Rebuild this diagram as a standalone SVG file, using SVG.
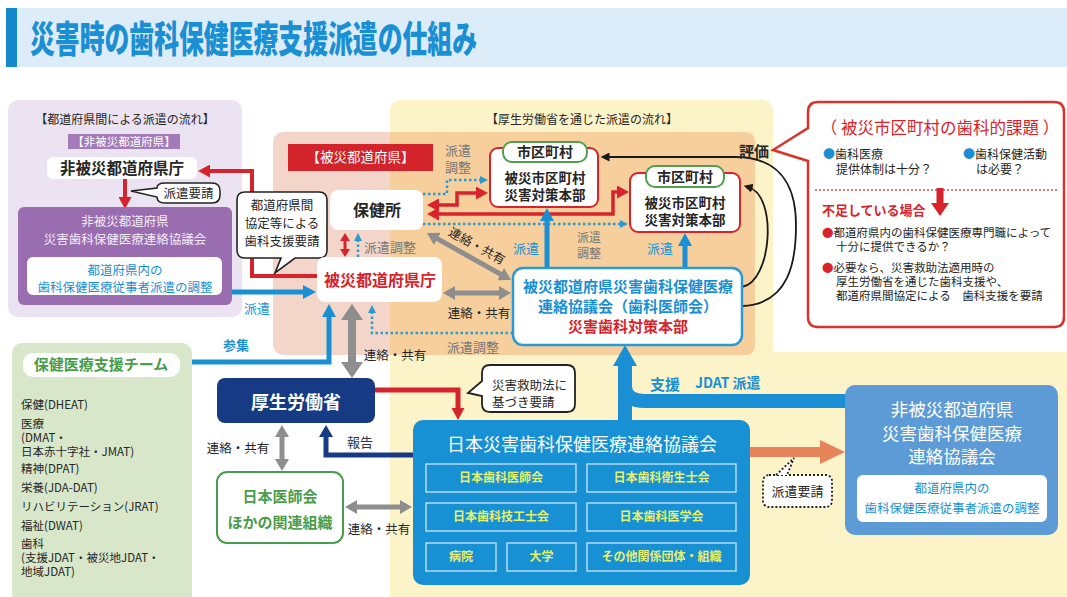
<svg xmlns="http://www.w3.org/2000/svg" width="1067" height="597" viewBox="0 0 1067 597">
<defs>
<style>
text{font-family:"Noto Sans CJK JP","Noto Sans CJK SC","Noto Sans",sans-serif;}
.c{text-anchor:middle}
.b{font-weight:700}
.g{fill:#767676}
.bl{fill:#1a8fd3}
.rd{fill:#d7232b}
.dk{fill:#262626}
.ln{fill:none}
.r{stroke:#d7232b}
.u{stroke:#1a8fd3}
.d{stroke:#2b9bcf;stroke-width:2.5;stroke-dasharray:2.5 2.5;fill:none}
.gy{stroke:#8e8e8e}
.sub{fill:none;stroke:#cde6f6;stroke-width:1.3}
.subt{fill:#e6ef6c;font-weight:700;font-size:12px;text-anchor:middle}
</style>
<marker id="ar" viewBox="0 0 12 13" markerWidth="12" markerHeight="13" refX="6" refY="6.5" orient="auto-start-reverse" markerUnits="userSpaceOnUse"><path d="M0,0L12,6.5L0,13z" fill="#d7232b"/></marker>
<marker id="ars" viewBox="0 0 8 10" markerWidth="8" markerHeight="10" refX="4" refY="5" orient="auto-start-reverse" markerUnits="userSpaceOnUse"><path d="M0,0L8,5L0,10z" fill="#d7232b"/></marker>
<marker id="ab" viewBox="0 0 13 14" markerWidth="13" markerHeight="14" refX="6.5" refY="7" orient="auto-start-reverse" markerUnits="userSpaceOnUse"><path d="M0,0L13,7L0,14z" fill="#1a8fd3"/></marker>
<marker id="ad" viewBox="0 0 8 8" markerWidth="8" markerHeight="8" refX="4" refY="4" orient="auto-start-reverse" markerUnits="userSpaceOnUse"><path d="M0,0L8,4L0,8z" fill="#2b9bcf"/></marker>
<marker id="ag" viewBox="0 0 12 14" markerWidth="12" markerHeight="14" refX="6" refY="7" orient="auto-start-reverse" markerUnits="userSpaceOnUse"><path d="M0,0L12,7L0,14z" fill="#8e8e8e"/></marker>
<marker id="agb" viewBox="0 0 16 22" markerWidth="16" markerHeight="22" refX="8" refY="11" orient="auto-start-reverse" markerUnits="userSpaceOnUse"><path d="M0,0L16,11L0,22z" fill="#8e8e8e"/></marker>
<marker id="an" viewBox="0 0 12 14" markerWidth="12" markerHeight="14" refX="6" refY="7" orient="auto-start-reverse" markerUnits="userSpaceOnUse"><path d="M0,0L12,7L0,14z" fill="#163a84"/></marker>
<marker id="ak" viewBox="0 0 9 9" markerWidth="9" markerHeight="9" refX="4.5" refY="4.5" orient="auto-start-reverse" markerUnits="userSpaceOnUse"><path d="M0,0L9,4.5L0,9z" fill="#1a1a1a"/></marker>
</defs>
<rect width="1067" height="597" fill="#fff"/>

<g id="title">
<rect x="8" y="8" width="1059" height="59" fill="#dcecf8"/>
<rect x="6" y="8" width="11" height="59" fill="#1688cc"/>
<text x="30" y="53" font-size="37" font-weight="900" fill="#1b8fd3" textLength="447" lengthAdjust="spacingAndGlyphs">災害時の歯科保健医療支援派遣の仕組み</text>
</g>

<g id="panels">
<rect x="8" y="100" width="234" height="217" rx="10" fill="#ebe3f1"/>
<text x="125" y="124.3" class="c dk" font-size="12">【都道府県間による派遣の流れ】</text>
<rect x="390" y="100" width="383" height="497" rx="10" fill="#fdf3c8"/>
<rect x="390" y="352" width="677" height="245" fill="#fdf3c8"/>
<text x="582" y="124.3" class="c dk" font-size="12">【厚生労働省を通じた派遣の流れ】</text>
<rect x="273" y="132" width="482" height="223" rx="10" fill="#f3d6c9"/>
<path d="M390,132 H745 Q755,132 755,142 V345 Q755,355 745,355 H390 Z" fill="#f6cf9c"/>
<rect x="12" y="343" width="180" height="264" rx="10" fill="#d8e7ca"/>
</g>

<g id="label-non-affected">
<rect x="68" y="134" width="112" height="15" fill="#a27bb8"/>
<text x="124" y="145.7" class="c" font-size="11.5" fill="#fff">【非被災都道府県】</text>
</g>
<g id="label-affected">
<rect x="288" y="144" width="145" height="27" fill="#d3232b"/>
<text x="360.5" y="162.4" class="c" font-size="13.5" fill="#fff">【被災都道府県】</text>
</g>

<g id="connectors">
<path class="ln r" stroke-width="4" d="M317,276 H252 V171 H204" marker-end="url(#ar)"/>
<path class="ln r" stroke-width="4" d="M125,179 V203" marker-end="url(#ar)"/>
<path class="ln r" stroke-width="3.5" d="M433,205 H457 V193 H482" marker-start="url(#ar)" marker-end="url(#ar)"/>
<path class="ln r" stroke-width="3.5" d="M433,214 H613 V192 H623" marker-start="url(#ar)" marker-end="url(#ar)"/>
<path class="ln r" stroke-width="3" d="M345,237 V253" marker-start="url(#ars)" marker-end="url(#ars)"/>
<path class="ln r" stroke-width="5" d="M375,390 H458 V414" marker-end="url(#ar)"/>
<path class="ln u" stroke-width="5" d="M232,292 H309.5" marker-end="url(#ab)"/>
<path class="ln u" stroke-width="5" d="M192,362 H329 V310.5" marker-end="url(#ab)"/>
<path class="ln u" stroke-width="5" d="M547,268 V214.5" marker-end="url(#ab)"/>
<path class="ln u" stroke-width="5" d="M685,268 V239.5" marker-end="url(#ab)"/>
<path class="d" d="M423,194 H447 V180 H484" marker-end="url(#ad)"/>
<path class="d" d="M423,224 H624" marker-end="url(#ad)"/>
<path class="d" d="M358,257 V237" marker-end="url(#ad)"/>
<path class="d" d="M513,333 H372 V309" marker-end="url(#ad)"/>
<path class="ln gy" stroke-width="5" d="M432.2,235.9 L505.8,277.1" marker-start="url(#ag)" marker-end="url(#ag)"/>
<path class="ln gy" stroke-width="5" d="M449,293 H505" marker-start="url(#ag)" marker-end="url(#ag)"/>
<path class="ln gy" stroke-width="8" d="M352,312 V370" marker-start="url(#agb)" marker-end="url(#agb)"/>
<path class="ln gy" stroke-width="5" d="M282,431 V465" marker-start="url(#ag)" marker-end="url(#ag)"/>
<path class="ln gy" stroke-width="5" d="M351,507 H406" marker-start="url(#ag)" marker-end="url(#ag)"/>
<path class="ln" stroke="#163a84" stroke-width="5" d="M413,455 H326 V431" marker-end="url(#an)"/>
<path class="ln" stroke="#1a1a1a" stroke-width="1.8" d="M742,287 C772,282 778,195 748,187" marker-end="url(#ak)"/>
<path class="ln" stroke="#1a1a1a" stroke-width="1.8" d="M742,306 C790,304 796,260 796,225 C796,180 775,157 735,157 H605" marker-end="url(#ak)"/>
<path class="ln" stroke="#1a8fd3" stroke-width="14" d="M625,421 V364"/>
<path class="ln" stroke="#1a8fd3" stroke-width="14" d="M625,385 Q625,401 645,401 H846"/>
<path d="M613,366 L637,366 L625,345 Z" fill="#1a8fd3"/>
<path class="ln" stroke="#e8845a" stroke-width="10" d="M750,452 H822"/>
<path d="M820,440 L845,452 L820,464 Z" fill="#e8845a"/>
<text x="257" y="312.7" class="c bl" font-size="13">派遣</text>
<text x="236" y="350" class="c bl b" font-size="13">参集</text>
<text x="458" y="154.7" class="c g" font-size="13">派遣<tspan x="458" dy="17">調整</tspan></text>
<text x="364" y="251.7" class="g" font-size="13">派遣調整</text>
<text x="477" y="250.5" class="c dk" font-size="12.5" transform="rotate(29 477 246)">連絡・共有</text>
<text x="479" y="317.5" class="c dk" font-size="12.5">連絡・共有</text>
<text x="473" y="351.7" class="c g" font-size="13">派遣調整</text>
<text x="526" y="252.7" class="c bl" font-size="13">派遣</text>
<text x="660" y="252.7" class="c bl" font-size="13">派遣</text>
<text x="589" y="242.3" class="c g" font-size="12">派遣<tspan x="589" dy="15.5">調整</tspan></text>
<text x="754" y="157.4" class="c dk b" font-size="15">評価</text>
<text x="395" y="359.5" class="c dk" font-size="12.5">連絡・共有</text>
<text x="238" y="452.5" class="c dk" font-size="12.5">連絡・共有</text>
<text x="379" y="533.5" class="c dk" font-size="12.5">連絡・共有</text>
<text x="360" y="446.7" class="c" font-size="13" fill="#2c3550">報告</text>
<text x="665" y="390.4" class="c bl b" font-size="15">支援</text>
<text x="695" y="388" class="bl b" font-size="14">JDAT 派遣</text>
</g>

<g id="callout-request1">
<path d="M165,183 H212 Q220,183 220,191 V195 Q220,203 212,203 H165 Q157,203 157,197 L131,191 L157,188 Q157,183 165,183 Z" fill="#fff" stroke="#222" stroke-width="1.5"/>
<text x="188.5" y="197.5" class="c dk" font-size="12.5">派遣要請</text>
</g>

<g id="non-affected-office">
<rect x="47" y="157" width="150" height="22" rx="6" fill="#fff"/>
<text x="122" y="173.6" class="c b dk" font-size="15.5">非被災都道府県庁</text>
</g>

<g id="non-affected-council">
<rect x="18" y="207" width="214" height="98" rx="6" fill="#9a6cb0"/>
<text x="125" y="225.8" class="c" font-size="12.5" fill="#f3ecf7">非被災都道府県<tspan x="125" dy="18">災害歯科保健医療連絡協議会</tspan></text>
<rect x="27" y="257" width="195" height="38" rx="6" fill="#fff"/>
<text x="125" y="274.5" class="c bl" font-size="12.5">都道府県内の<tspan x="125" dy="17">歯科保健医療従事者派遣の調整</tspan></text>
</g>

<g id="callout-agreement">
<path d="M245,192 H319 Q327,192 327,200 V250 Q327,258 319,258 H295 L275,273 L281,258 H245 Q237,258 237,250 V200 Q237,192 245,192 Z" fill="#fff" stroke="#222" stroke-width="1.6"/>
<text x="282" y="210.3" class="c dk" font-size="12.5">都道府県間<tspan x="282" dy="18">協定等による</tspan><tspan x="282" dy="18">歯科支援要請</tspan></text>
</g>

<g id="health-center">
<rect x="330" y="190" width="93" height="40" rx="8" fill="#fff"/>
<text x="377" y="215.8" class="c b dk" font-size="16">保健所</text>
</g>

<g id="affected-office">
<rect x="317" y="257" width="125" height="45" rx="8" fill="#fff"/>
<text x="380" y="285.8" class="c b rd" font-size="16">被災都道府県庁</text>
</g>

<g id="municipality1">
<rect x="490" y="148" width="108" height="59" rx="8" fill="#fff" stroke="#d7232b" stroke-width="2"/>
<rect x="503" y="142" width="84" height="20" rx="9" fill="#fff" stroke="#4f9f4f" stroke-width="2"/>
<text x="545" y="157" class="c b dk" font-size="14">市区町村</text>
<text x="545" y="182.5" class="c b dk" font-size="13.5">被災市区町村<tspan x="545" dy="17.9">災害対策本部</tspan></text>
</g>

<g id="municipality2">
<rect x="630" y="173" width="110" height="59" rx="8" fill="#fff" stroke="#d7232b" stroke-width="2"/>
<rect x="646" y="166" width="78" height="21" rx="9" fill="#fff" stroke="#4f9f4f" stroke-width="2"/>
<text x="685" y="181.5" class="c b dk" font-size="14">市区町村</text>
<text x="685" y="207.5" class="c b dk" font-size="13.5">被災市区町村<tspan x="685" dy="17.9">災害対策本部</tspan></text>
</g>

<g id="affected-council">
<rect x="513" y="268" width="229" height="77" rx="10" fill="#fff" stroke="#2a9ad5" stroke-width="2.5"/>
<text x="628" y="292.2" class="c b bl" font-size="15">被災都道府県災害歯科保健医療<tspan x="628" dy="19.9">連絡協議会（歯科医師会）</tspan><tspan x="628" dy="19.9" class="rd">災害歯科対策本部</tspan></text>
</g>

<g id="issues-callout">
<path d="M818,102 H1054 Q1064,102 1064,112 V317 Q1064,327 1054,327 H818 Q808,327 808,317 V161 L773,150 L808,128 V112 Q808,102 818,102 Z" fill="#fff" stroke="#d8342c" stroke-width="2.5"/>
<text x="940" y="134" class="c rd" font-size="16.5">（ 被災市区町村の歯科的課題 ）</text>
<text x="823" y="159.3" class="dk" font-size="12"><tspan class="bl">●</tspan>歯科医療<tspan x="836" dy="15">提供体制は十分？</tspan></text>
<text x="963" y="159.3" class="dk" font-size="12"><tspan class="bl">●</tspan>歯科保健活動<tspan x="976" dy="15">は必要？</tspan></text>
<path d="M815,190 H1058" stroke="#d05050" stroke-width="1.5" stroke-dasharray="2 2" fill="none"/>
<path d="M940,188 V204" stroke="#d7232b" stroke-width="7" fill="none"/>
<path d="M931,203 L949,203 L940,216 Z" fill="#d7232b"/>
<text x="822" y="214.7" class="rd b" font-size="13">不足している場合</text>
<text x="822" y="237.1" class="dk" font-size="11.5"><tspan class="rd">●</tspan>都道府県内の歯科保健医療専門職によって<tspan x="836" dy="14">十分に提供できるか？</tspan></text>
<text x="822" y="272.1" class="dk" font-size="11.5"><tspan class="rd">●</tspan>必要なら、災害救助法適用時の<tspan x="836" dy="14">厚生労働省を通じた歯科支援や、</tspan><tspan x="836" dy="14">都道府県間協定による　歯科支援を要請</tspan></text>
</g>

<g id="support-teams">
<rect x="23" y="353" width="157" height="24" rx="10" fill="#fff"/>
<text x="101" y="370.4" class="c b" font-size="15" fill="#4a9d4a">保健医療支援チーム</text>
<text x="21" y="409.1" class="dk" font-size="11.5">保健(DHEAT)<tspan x="21" dy="19">医療</tspan><tspan x="21" dy="14">(DMAT・</tspan><tspan x="21" dy="14">日本赤十字社・JMAT)</tspan><tspan x="21" dy="17">精神(DPAT)</tspan><tspan x="21" dy="19">栄養(JDA-DAT)</tspan><tspan x="21" dy="19">リハビリテーション(JRAT)</tspan><tspan x="21" dy="19">福祉(DWAT)</tspan><tspan x="21" dy="18">歯科</tspan><tspan x="21" dy="14">(支援JDAT・被災地JDAT・</tspan><tspan x="21" dy="14">地域JDAT)</tspan></text>
</g>

<g id="mhlw">
<rect x="217" y="378" width="158" height="45" rx="8" fill="#163a84"/>
<text x="296" y="408.5" class="c b" font-size="18" fill="#fff">厚生労働省</text>
</g>

<g id="callout-relief-act">
<path d="M490,365 H567 Q575,365 575,373 V404 Q575,412 567,412 H490 Q482,412 482,404 V396 L468,393 L482,381 V373 Q482,365 490,365 Z" fill="#fff" stroke="#222" stroke-width="1.8"/>
<text x="492" y="389.5" class="dk" font-size="12.5">災害救助法に<tspan x="492" dy="17">基づき要請</tspan></text>
</g>

<g id="jma">
<rect x="217" y="472" width="126" height="71" rx="10" fill="#fff" stroke="#4a9d4a" stroke-width="2"/>
<text x="280" y="502.4" class="c b" font-size="15" fill="#4a9d4a">日本医師会<tspan x="280" dy="26">ほかの関連組織</tspan></text>
</g>

<g id="japan-council">
<rect x="413" y="420" width="337" height="165" rx="10" fill="#1790d4"/>
<text x="582" y="450.5" class="c" font-size="18" fill="#fff">日本災害歯科保健医療連絡協議会</text>
<rect class="sub" x="426" y="464" width="150" height="28"/>
<text class="subt" x="501" y="482.3">日本歯科医師会</text>
<rect class="sub" x="587" y="464" width="149" height="28"/>
<text class="subt" x="661.5" y="482.3">日本歯科衛生士会</text>
<rect class="sub" x="426" y="503" width="150" height="28"/>
<text class="subt" x="501" y="521.3">日本歯科技工士会</text>
<rect class="sub" x="587" y="503" width="149" height="28"/>
<text class="subt" x="661.5" y="521.3">日本歯科医学会</text>
<rect class="sub" x="426" y="543" width="70" height="28"/>
<text class="subt" x="461" y="561.3">病院</text>
<rect class="sub" x="507" y="543" width="69" height="28"/>
<text class="subt" x="541.5" y="561.3">大学</text>
<rect class="sub" x="587" y="543" width="149" height="28"/>
<text class="subt" x="661.5" y="561.3">その他関係団体・組織</text>
</g>

<g id="callout-request2">
<rect x="763" y="475" width="69" height="32" rx="6" fill="#fff" stroke="#222" stroke-width="1.8" stroke-dasharray="2 2"/>
<path d="M776,475 L794,458 L787,475" fill="#fff" stroke="#222" stroke-width="1.8" stroke-dasharray="2 2"/>
<text x="797.5" y="495.5" class="c dk" font-size="13">派遣要請</text>
</g>

<g id="non-affected-council-right">
<rect x="845" y="385" width="213" height="150" rx="10" fill="#5c9bd5"/>
<text x="952" y="416.3" class="c" font-size="17.5" fill="#fff">非被災都道府県<tspan x="952" dy="24">災害歯科保健医療</tspan><tspan x="952" dy="23">連絡協議会</tspan></text>
<rect x="857" y="475" width="190" height="47" rx="6" fill="#fff"/>
<text x="952" y="492.5" class="c bl" font-size="12.5">都道府県内の<tspan x="952" dy="20">歯科保健医療従事者派遣の調整</tspan></text>
</g>
</svg>
